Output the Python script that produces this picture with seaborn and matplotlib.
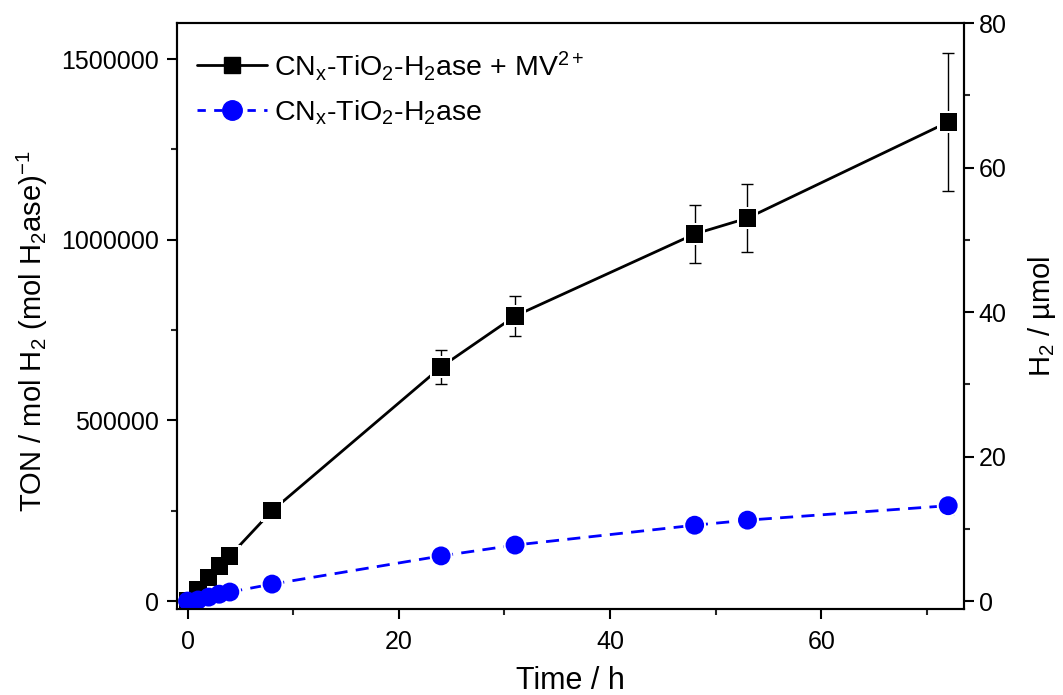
import matplotlib
matplotlib.use('Agg')
import matplotlib.pyplot as plt
from matplotlib.lines import Line2D
from matplotlib.ticker import MultipleLocator
import seaborn as sns
import pandas as pd

# Data
time_h = [0, 1, 2, 3, 4, 8, 24, 31, 48, 53, 72]
ton_mv = [0, 32000, 66000, 97000, 125000, 250000, 648000, 789000, 1016000, 1060000, 1326000]
err_mv = [3000, 4000, 5000, 6000, 7000, 10000, 47000, 56000, 79000, 95000, 190000]
ton_plain = [0, 3000, 11000, 19000, 25000, 47000, 125000, 155000, 210000, 224000, 264000]
err_plain = [500, 1000, 1500, 2000, 2500, 4000, 6000, 7000, 8000, 9000, 23000]
TON_PER_UMOL = 20000  # right axis: H2 / umol = TON / 20000

label_mv = r'CN$_\mathregular{x}$-TiO$_\mathregular{2}$-H$_\mathregular{2}$ase + MV$^\mathregular{2+}$'
label_plain = r'CN$_\mathregular{x}$-TiO$_\mathregular{2}$-H$_\mathregular{2}$ase'

df_mv = pd.DataFrame({'t': time_h, 'ton': ton_mv})
df_plain = pd.DataFrame({'t': time_h, 'ton': ton_plain})

sns.set_style('ticks')
plt.rcParams['font.family'] = ['Liberation Sans', 'DejaVu Sans']
plt.rcParams['mathtext.fontset'] = 'custom'
plt.rcParams['mathtext.rm'] = 'Liberation Sans'
plt.rcParams['mathtext.it'] = 'Liberation Sans'
plt.rcParams['text.color'] = 'black'
plt.rcParams['axes.labelcolor'] = 'black'

BLUE = '#0000ff'

fig = plt.figure(figsize=(10.63, 6.95), dpi=100)
ax = fig.add_axes([0.1665, 0.1237, 0.7404, 0.8432])

# lines
sns.lineplot(data=df_mv, x='t', y='ton', color='black', lw=2, ax=ax, legend=False, zorder=2)
sns.lineplot(data=df_plain, x='t', y='ton', color=BLUE, lw=2, ax=ax, legend=False,
             dashes=False, zorder=2)
ax.lines[-1].set_dashes((4.7, 3))

# error bars
ax.errorbar(time_h, ton_mv, yerr=err_mv, fmt='none', ecolor='black', elinewidth=1,
            capsize=4.5, capthick=1, zorder=3)
ax.errorbar(time_h, ton_plain, yerr=err_plain, fmt='none', ecolor=BLUE, elinewidth=1,
            capsize=4.5, capthick=1, zorder=3)

# white halos to leave a small gap between line and marker
sns.scatterplot(data=df_mv, x='t', y='ton', marker='s', s=240, color='white',
                edgecolor='none', ax=ax, zorder=4, legend=False)
sns.scatterplot(data=df_plain, x='t', y='ton', marker='o', s=270, color='white',
                edgecolor='none', ax=ax, zorder=4, legend=False)
# markers
sns.scatterplot(data=df_mv, x='t', y='ton', marker='s', s=155, color='black',
                edgecolor='none', ax=ax, zorder=5, legend=False)
sns.scatterplot(data=df_plain, x='t', y='ton', marker='o', s=185, color=BLUE,
                edgecolor='none', ax=ax, zorder=6, legend=False)

ax.set_xlim(-1.0, 73.5)
ax.set_ylim(-22000, 1600000)
ax.xaxis.set_major_locator(MultipleLocator(20))
ax.xaxis.set_minor_locator(MultipleLocator(10))
ax.yaxis.set_major_locator(MultipleLocator(500000))
ax.yaxis.set_minor_locator(MultipleLocator(250000))
ax.ticklabel_format(axis='y', style='plain', useOffset=False)

for s in ax.spines.values():
    s.set_linewidth(1.5)
    s.set_color('black')
ax.tick_params(axis='both', which='major', direction='out', length=7, width=1.5,
               labelsize=18, colors='black')
ax.tick_params(axis='both', which='minor', direction='out', length=4, width=1.5)
ax.tick_params(axis='y', right=False, which='both')
ax.tick_params(axis='x', which='major', pad=8)
ax.tick_params(axis='y', which='major', pad=6)

ax.set_xlabel('Time / h', fontsize=22, labelpad=9)
ax.set_ylabel(r'TON / mol H$_\mathregular{2}$ (mol H$_\mathregular{2}$ase)$^\mathregular{-1}$',
              fontsize=21, labelpad=8)
ax.yaxis.label.set_y(0.474)

ax2 = ax.twinx()
ax2.set_ylim(-22000 / TON_PER_UMOL, 1600000 / TON_PER_UMOL)
ax2.yaxis.set_major_locator(MultipleLocator(20))
ax2.yaxis.set_minor_locator(MultipleLocator(10))
for s in ax2.spines.values():
    s.set_linewidth(1.5)
    s.set_color('black')
ax2.tick_params(axis='y', which='major', direction='out', length=7, width=1.5,
                labelsize=18, colors='black')
ax2.tick_params(axis='y', which='minor', direction='out', length=4, width=1.5)
ax2.set_ylabel(r'H$_\mathregular{2}$ / µmol', fontsize=21, labelpad=14)

handles = [
    Line2D([], [], color='black', lw=2, marker='s', markersize=12),
    Line2D([], [], color=BLUE, lw=2, ls=(0, (3, 3)), marker='o', markersize=14),
]
ax.legend(handles, [label_mv, label_plain], loc='upper left', frameon=False,
          fontsize=20.5, handlelength=2.45, handletextpad=0.25, labelspacing=0.55,
          borderaxespad=0.2, bbox_to_anchor=(0.004, 0.985))

fig.savefig('out.png', dpi=100)
